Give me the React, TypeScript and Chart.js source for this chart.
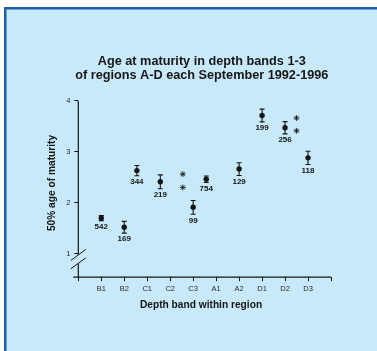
import React, { useEffect, useRef } from 'react';
import { Chart, registerables } from 'chart.js';

Chart.register(...registerables);

// ---- data ----
const categoryLabels = ['', 'B1', 'B2', 'C1', 'C2', 'C3', 'A1', 'A2', 'D1', 'D2', 'D3', ''];
const pointX = [1, 2, 2.55, 3.57, 5, 5.57, 7, 8, 9, 10];
const pointY = [1.7, 1.52, 2.63, 2.41, 1.91, 2.46, 2.66, 3.71, 3.47, 2.88];
const errorHalf = [0.05, 0.115, 0.1, 0.135, 0.135, 0.065, 0.125, 0.125, 0.12, 0.13];
const sampleSizes = ['542', '169', '344', '219', '99', '754', '129', '199', '256', '118'];
const starX = [4.55, 4.55, 9.5, 9.5];
const starY = [2.56, 2.3, 3.66, 3.41];
const yTickValues = [1, 2, 3, 4];
const titleLines = ['Age at maturity in depth bands 1-3', 'of regions A-D each September 1992-1996'];
const xTitle = 'Depth band within region';
const yTitle = '50% age of maturity';

const FONT = '"Liberation Sans", Arial, Helvetica, sans-serif';
const INK = '#161616';

const decorPlugin = {
  id: 'decor',
  beforeDraw(chart: any) {
    const { ctx, width, height } = chart;
    ctx.save();
    ctx.fillStyle = '#ffffff';
    ctx.fillRect(0, 0, width, height);
    ctx.fillStyle = '#c7e9f9';
    ctx.fillRect(4, 7, width - 4, height - 7);
    ctx.strokeStyle = '#1f5ea8';
    ctx.lineWidth = 2.5;
    ctx.beginPath();
    ctx.moveTo(5.25, height);
    ctx.lineTo(5.25, 8.25);
    ctx.lineTo(width, 8.25);
    ctx.stroke();
    ctx.restore();
  },
  afterDraw(chart: any) {
    const { ctx, chartArea } = chart;
    const xs = chart.scales.x;
    const ys = chart.scales.y;
    ctx.save();
    ctx.strokeStyle = INK;
    ctx.fillStyle = INK;

    // axes
    const ax = xs.getPixelForValue(0);
    const by = chartArea.bottom;
    ctx.lineWidth = 1.2;
    ctx.beginPath();
    ctx.moveTo(ax, ys.getPixelForValue(4));
    ctx.lineTo(ax, 255);
    ctx.moveTo(ax, 263.5);
    ctx.lineTo(ax, by);
    ctx.moveTo(ax - 5, by);
    ctx.lineTo(xs.getPixelForValue(11), by);
    ctx.stroke();
    // break marks
    ctx.lineWidth = 1;
    ctx.beginPath();
    ctx.moveTo(ax - 7.5, 260.5);
    ctx.lineTo(ax + 7.5, 249.3);
    ctx.moveTo(ax - 7.5, 268.8);
    ctx.lineTo(ax + 7.5, 257.8);
    ctx.stroke();

    // error bars
    ctx.lineWidth = 1.1;
    pointX.forEach((x, i) => {
      const px = xs.getPixelForValue(x);
      const top = ys.getPixelForValue(pointY[i] + errorHalf[i]);
      const bot = ys.getPixelForValue(pointY[i] - errorHalf[i]);
      ctx.beginPath();
      ctx.moveTo(px, top);
      ctx.lineTo(px, bot);
      ctx.moveTo(px - 2.5, top);
      ctx.lineTo(px + 2.5, top);
      ctx.moveTo(px - 2.5, bot);
      ctx.lineTo(px + 2.5, bot);
      ctx.stroke();
    });

    // sample sizes
    ctx.font = `bold 8px ${FONT}`;
    ctx.textAlign = 'center';
    ctx.textBaseline = 'middle';
    pointX.forEach((x, i) => {
      const px = xs.getPixelForValue(x);
      const bot = ys.getPixelForValue(pointY[i] - errorHalf[i]);
      ctx.fillText(sampleSizes[i], px, bot + 6.2);
    });

    // titles
    ctx.font = `bold 12.7px ${FONT}`;
    ctx.fillText(titleLines[0], 201.8, 61.7);
    ctx.fillText(titleLines[1], 201.8, 75.3);

    ctx.font = `bold 10.2px ${FONT}`;
    ctx.fillText(xTitle, 201, 305);

    ctx.translate(52.3, 183);
    ctx.rotate(-Math.PI / 2);
    ctx.fillText(yTitle, 0, 0);
    ctx.restore();
  },
};

export default function App() {
  const ref = useRef<HTMLCanvasElement | null>(null);

  useEffect(() => {
    if (!ref.current) return;
    const chart = new Chart(ref.current, {
      type: 'scatter',
      data: {
        datasets: [
          {
            data: pointX.map((x, i) => ({ x, y: pointY[i] })),
            pointRadius: 2.7,
            pointStyle: 'circle',
            backgroundColor: INK,
            borderColor: INK,
            borderWidth: 0,
          },
          {
            data: starX.map((x, i) => ({ x, y: starY[i] })),
            pointRadius: 2.9,
            pointStyle: 'star',
            backgroundColor: INK,
            borderColor: INK,
            borderWidth: 0.9,
          },
        ],
      },
      options: {
        animation: false,
        responsive: false,
        devicePixelRatio: 1,
        layout: { padding: { left: 58.3, right: 46, top: 100.7, bottom: 53.8 } },
        plugins: { legend: { display: false }, tooltip: { enabled: false }, title: { display: false } },
        scales: {
          x: {
            type: 'linear',
            min: 0,
            max: 11,
            afterBuildTicks: (s: any) => {
              s.ticks = categoryLabels.map((_, i) => ({ value: i }));
            },
            afterFit: (s: any) => {
              s.height = 20;
            },
            ticks: {
              callback: (v: any) => categoryLabels[Math.round(Number(v))] ?? '',
              autoSkip: false,
              maxRotation: 0,
              padding: 3,
              color: '#2a2a2a',
              font: { family: FONT, size: 7.5 },
            },
            grid: { drawOnChartArea: false, drawTicks: true, tickLength: 4, color: INK, lineWidth: 1 },
            border: { display: false },
          },
          y: {
            type: 'linear',
            min: 0.54,
            max: 4,
            afterBuildTicks: (s: any) => {
              s.ticks = yTickValues.map((v) => ({ value: v }));
            },
            afterFit: (s: any) => {
              s.width = 20;
            },
            ticks: {
              padding: 4,
              color: '#2a2a2a',
              font: { family: FONT, size: 7.5 },
            },
            grid: { drawOnChartArea: false, drawTicks: true, tickLength: 4, color: INK, lineWidth: 1 },
            border: { display: false },
          },
        },
      },
      plugins: [decorPlugin],
    } as any);
    return () => chart.destroy();
  }, []);

  return (
    <div style={{ position: 'fixed', left: 0, top: 0, width: 377, height: 351 }}>
      <canvas ref={ref} width={377} height={351} style={{ display: 'block', width: 377, height: 351 }} />
    </div>
  );
}
